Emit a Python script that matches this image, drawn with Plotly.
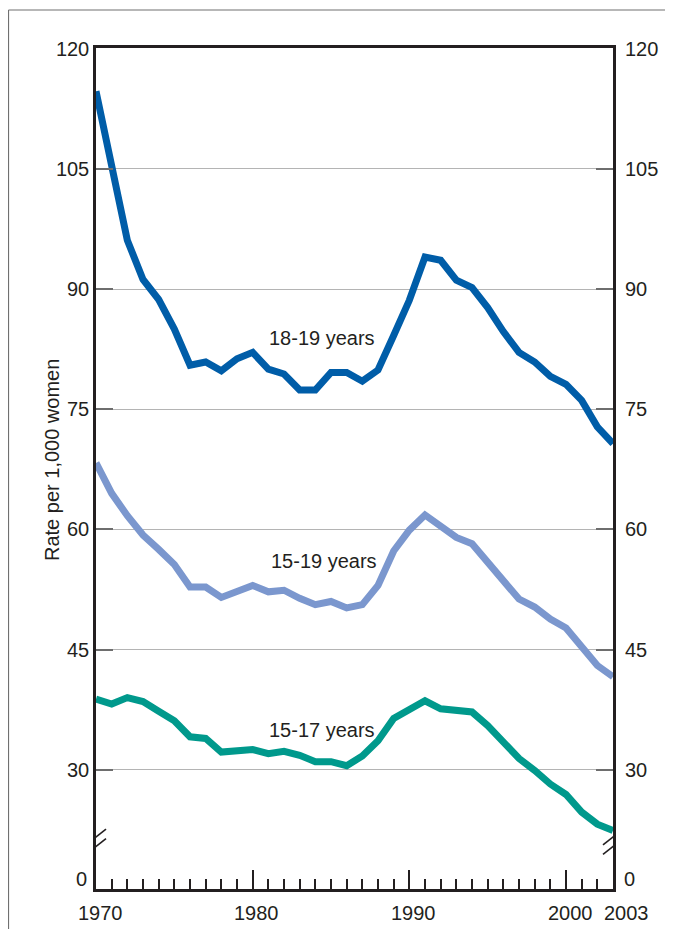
import plotly.graph_objects as go

years = list(range(1970, 2004))
rate_18_19 = [114.7, 105.3, 96.1, 91.2, 88.7, 85.0, 80.5, 80.9, 79.8, 81.3,
              82.1, 80.0, 79.4, 77.4, 77.4, 79.6, 79.6, 78.5, 79.9, 84.2,
              88.6, 94.0, 93.6, 91.1, 90.2, 87.7, 84.7, 82.1, 80.9, 79.1,
              78.1, 76.1, 72.8, 70.7]
rate_15_19 = [68.3, 64.5, 61.7, 59.3, 57.5, 55.6, 52.8, 52.8, 51.5, 52.3,
              53.0, 52.2, 52.4, 51.4, 50.6, 51.0, 50.2, 50.6, 53.0, 57.3,
              59.9, 61.8, 60.3, 59.0, 58.2, 56.0, 53.5, 51.3, 50.3, 48.8,
              47.7, 45.3, 43.0, 41.6]
rate_15_17 = [38.8, 38.2, 39.0, 38.5, 37.3, 36.1, 34.1, 33.9, 32.2, 32.3,
              32.5, 32.0, 32.3, 31.8, 31.0, 31.0, 30.5, 31.7, 33.6, 36.4,
              37.5, 38.6, 37.6, 37.5, 37.2, 35.5, 33.3, 31.4, 29.9, 28.2,
              26.9, 24.7, 23.2, 22.4]
series_names = ["18-19 years", "15-19 years", "15-17 years"]
series_colors = ["#005DA8", "#7B97CE", "#00998C"]

y_ticks = [30, 45, 60, 75, 90, 105, 120]
x_major = [1970, 1980, 1990, 2000]
x_labels = ["1970", "1980", "1990", "2000", "2003"]
x_label_years = [1970, 1980, 1990, 2000, 2003]

FONT = "Liberation Sans, Arial, Helvetica, sans-serif"
TXT = "#231F20"
FS = 20
Y_RANGE = [15.1, 120.1]
ZERO_POS = 16.4   # where the "0" sits below the axis break
BREAK_POS = 21.0  # value at which the axis break marks sit

# page body has an 8px margin; plot area target: x 96..613, y 48..889 (page px)
W, H = 657, 921
ML, MR, MT, MB = 88, 52, 40, 40
PW, PH = W - ML - MR, H - MT - MB


def px_to_paper_x(px):
    return (px - 8 - ML) / PW


def px_to_paper_y(py):
    return (H - MB + 8 - py) / PH


fig = go.Figure()
for name, vals, col in zip(series_names, [rate_18_19, rate_15_19, rate_15_17], series_colors):
    fig.add_trace(go.Scatter(x=years, y=vals, mode="lines", name=name,
                             line=dict(color=col, width=7), hoverinfo="skip",
                             showlegend=False, cliponaxis=False))
# invisible trace carrying the right axis
fig.add_trace(go.Scatter(x=years, y=rate_15_17, yaxis="y2", mode="lines",
                         line=dict(width=0), opacity=0, showlegend=False, hoverinfo="skip"))

fig.update_layout(
    width=W, height=H, autosize=False,
    margin=dict(l=ML, r=MR, t=MT, b=MB, autoexpand=False),
    paper_bgcolor="white", plot_bgcolor="white",
    font=dict(family=FONT, size=FS, color=TXT),
    xaxis=dict(range=[1970, 2003], tickvals=x_major, showticklabels=False, automargin=False,
               ticks="inside", ticklen=19, tickwidth=2, tickcolor=TXT,
               minor=dict(tickvals=[y for y in years if y not in x_major and y != 2003],
                          ticks="inside", ticklen=10, tickwidth=2, tickcolor=TXT, showgrid=False),
               showgrid=False, zeroline=False, showline=True, linecolor=TXT, linewidth=2.5,
               mirror=True),
    yaxis=dict(range=Y_RANGE, tickvals=y_ticks, ticktext=[str(v) for v in y_ticks],
               automargin=False,
               ticks="inside", ticklen=17, tickwidth=2, tickcolor="#6E6E6E",
               showgrid=True, gridcolor="#B4B4B4", gridwidth=1.2,
               zeroline=False, showline=True, linecolor=TXT, linewidth=2.5, mirror=True,
               ticklabelstandoff=0, tickfont=dict(size=FS, color=TXT)),
    yaxis2=dict(range=Y_RANGE, overlaying="y", side="right", tickvals=y_ticks,
                ticktext=[str(v) for v in y_ticks], automargin=False,
                ticks="inside", ticklen=17, tickwidth=2, tickcolor="#6E6E6E",
                showgrid=False, zeroline=False, showline=False,
                ticklabelstandoff=11, tickfont=dict(size=FS, color=TXT)),
)

annotations = [
    dict(text="18-19 years", x=1984.4, y=83.9, xref="x", yref="y", showarrow=False,
         font=dict(size=FS, color=TXT)),
    dict(text="15-19 years", x=1984.55, y=56.1, xref="x", yref="y", showarrow=False,
         font=dict(size=FS, color=TXT)),
    dict(text="15-17 years", x=1984.4, y=35.0, xref="x", yref="y", showarrow=False,
         font=dict(size=FS, color=TXT)),
    dict(text="0", x=0, y=ZERO_POS, xref="paper", yref="y", xanchor="right", xshift=-7,
         showarrow=False, font=dict(size=FS, color=TXT)),
    dict(text="0", x=1, y=ZERO_POS, xref="paper", yref="y", xanchor="left", xshift=9,
         showarrow=False, font=dict(size=FS, color=TXT)),
    dict(text="Rate per 1,000 women", x=px_to_paper_x(39), y=px_to_paper_y(460),
         xref="paper", yref="paper", textangle=-90, showarrow=False,
         font=dict(size=FS, color=TXT)),
]
for yr, lab in zip(x_label_years, x_labels):
    annotations.append(dict(text=lab, x=yr, y=0, xref="x", yref="paper", yanchor="top",
                            xshift=13 if yr == 2003 else 4, yshift=-11, showarrow=False,
                            font=dict(size=FS, color=TXT)))
fig.update_layout(annotations=annotations)

shapes = []
for xa in [1970, 2003]:
    for (a, b) in [(-3.2, 12.6), (-12.7, 3.2)]:
        shapes.append(dict(type="line", xref="x", yref="y", xsizemode="pixel", ysizemode="pixel",
                           xanchor=xa, yanchor=BREAK_POS, x0=-10, x1=10, y0=a, y1=b,
                           line=dict(color=TXT, width=1.6)))
# outer frame (left and top edges)
fx, fy = px_to_paper_x(8.5), px_to_paper_y(10)
shapes.append(dict(type="line", xref="paper", yref="paper",
                   x0=fx, x1=fx, y0=-0.2, y1=fy, line=dict(color="#707070", width=1.2)))
shapes.append(dict(type="line", xref="paper", yref="paper",
                   x0=fx, x1=1.3, y0=fy, y1=fy, line=dict(color="#707070", width=1.2)))
fig.update_layout(shapes=shapes)

fig.write_html("out.html", config={"displayModeBar": False})
